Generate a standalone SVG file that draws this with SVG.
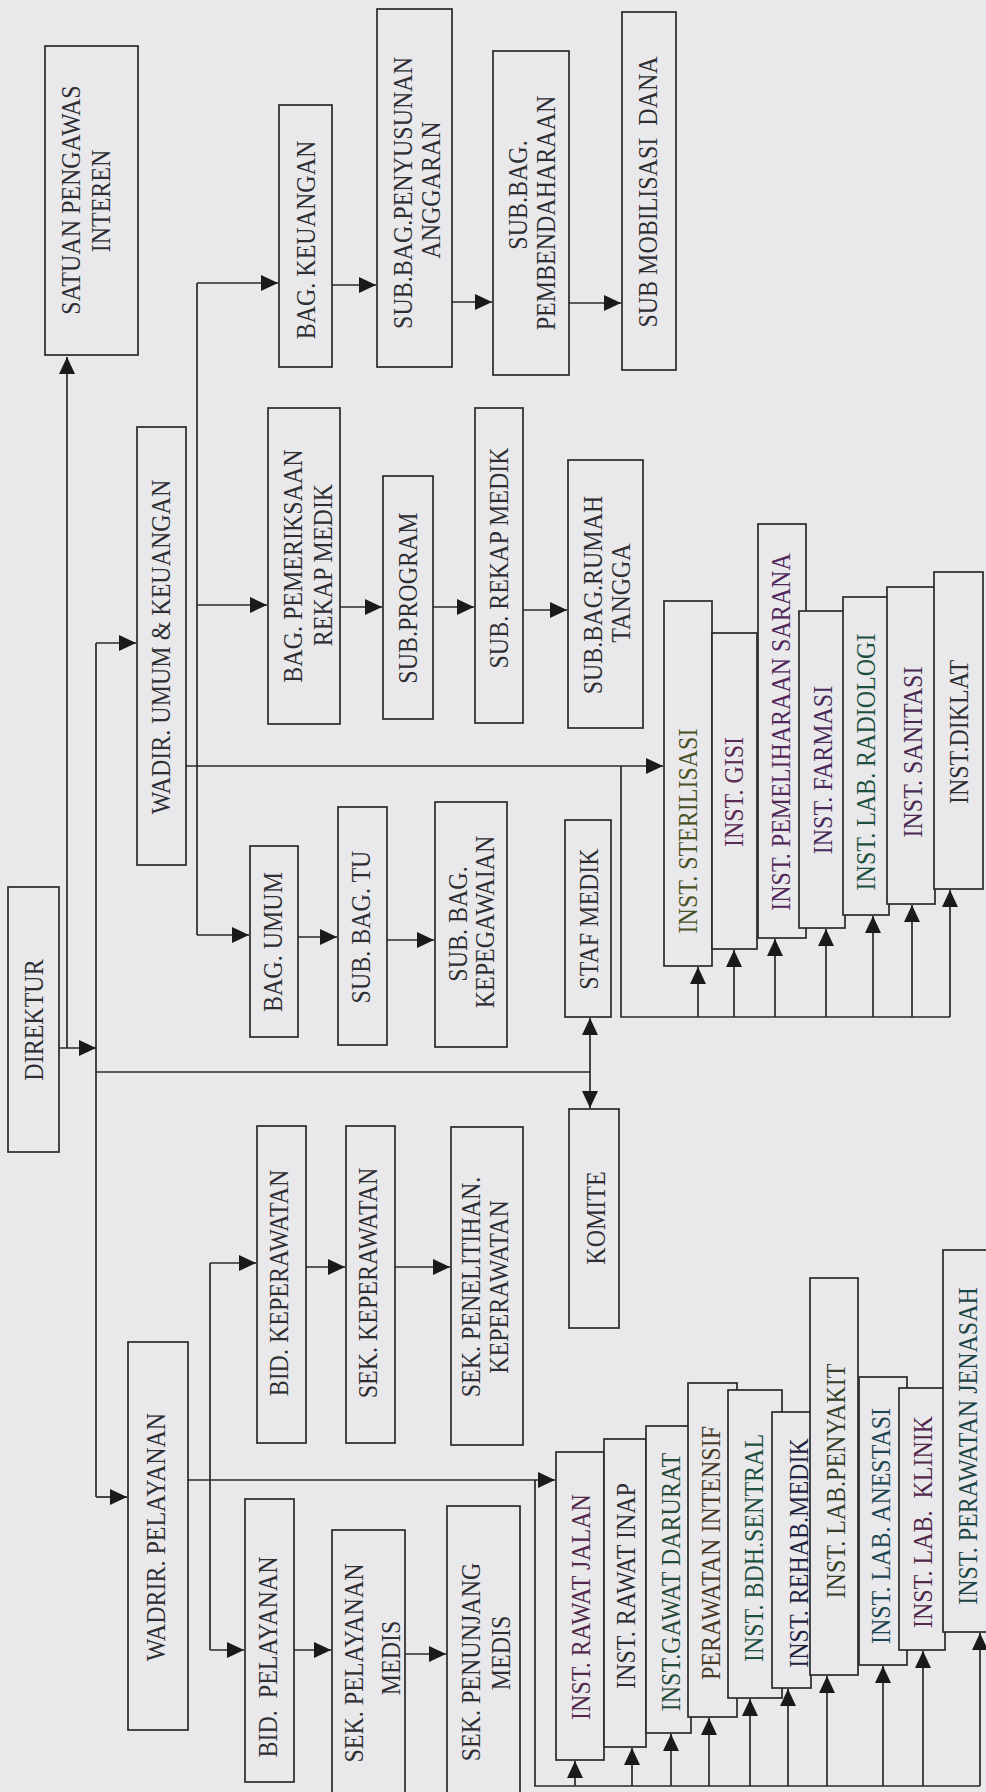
<svg xmlns="http://www.w3.org/2000/svg" width="986" height="1792" viewBox="0 0 986 1792">
<defs>
<style>
.bg{fill:#e9e9eb}
.n rect{fill:#e9e9eb;stroke:#2a2a2a;stroke-width:1.7}
.t{font-family:"Liberation Serif","Times New Roman",serif;font-size:24px;text-anchor:middle;fill:#2e2e33}
.c line,.c polyline{fill:none;stroke:#2a2a2a;stroke-width:1.7}
.a{marker-end:url(#ah)}
</style>
<marker id="ah" markerUnits="userSpaceOnUse" markerWidth="18" markerHeight="16" refX="17" refY="8" orient="auto">
<path d="M0,0 L17,8 L0,16 Z" fill="#1a1a1a"/>
</marker>
</defs>
<rect class="bg" x="0" y="0" width="986" height="1792"/>

<g id="connectors" class="c">
<!-- direktur to satuan and trunk -->
<polyline class="a" points="67,1048 67,357"/>
<line class="a" x1="59" y1="1048" x2="96" y2="1048"/>
<line x1="96" y1="643" x2="96" y2="1497"/>
<line class="a" x1="96" y1="643" x2="136" y2="643"/>
<line class="a" x1="96" y1="1497" x2="127" y2="1497"/>
<line x1="96" y1="1072" x2="590" y2="1072"/>
<line class="a" x1="590" y1="1072" x2="590" y2="1018"/>
<line class="a" x1="590" y1="1072" x2="590" y2="1108"/>
<!-- wadir umum branch -->
<line x1="197" y1="283" x2="197" y2="935"/>
<line class="a" x1="197" y1="283" x2="278" y2="283"/>
<line class="a" x1="197" y1="605" x2="267" y2="605"/>
<line class="a" x1="197" y1="935" x2="249" y2="935"/>
<line class="a" x1="332" y1="285" x2="376" y2="285"/>
<line class="a" x1="452" y1="302" x2="492" y2="302"/>
<line class="a" x1="569" y1="303" x2="621" y2="303"/>
<line class="a" x1="340" y1="607" x2="382" y2="607"/>
<line class="a" x1="433" y1="607" x2="474" y2="607"/>
<line class="a" x1="523" y1="610" x2="567" y2="610"/>
<line class="a" x1="298" y1="937" x2="337" y2="937"/>
<line class="a" x1="387" y1="940" x2="434" y2="940"/>
<!-- wadir umum to instalasi -->
<line class="a" x1="186" y1="766" x2="663" y2="766"/>
<polyline points="621,766 621,1017 950,1017"/>
<line class="a" x1="698" y1="1017" x2="698" y2="967"/>
<line class="a" x1="734" y1="1017" x2="734" y2="950"/>
<line class="a" x1="775" y1="1017" x2="775" y2="939"/>
<line class="a" x1="826" y1="1017" x2="826" y2="929"/>
<line class="a" x1="873" y1="1017" x2="873" y2="916"/>
<line class="a" x1="912" y1="1017" x2="912" y2="905"/>
<line class="a" x1="950" y1="1017" x2="950" y2="890"/>
<!-- wadir pelayanan branch -->
<line x1="210" y1="1263" x2="210" y2="1650"/>
<line class="a" x1="210" y1="1263" x2="256" y2="1263"/>
<line class="a" x1="210" y1="1650" x2="244" y2="1650"/>
<line class="a" x1="306" y1="1267" x2="345" y2="1267"/>
<line class="a" x1="395" y1="1267" x2="450" y2="1267"/>
<line class="a" x1="294" y1="1650" x2="331" y2="1650"/>
<line class="a" x1="405" y1="1654" x2="446" y2="1654"/>
<!-- wadir pelayanan to instalasi -->
<line class="a" x1="188" y1="1480" x2="555" y2="1480"/>
<polyline points="535,1480 535,1786 980,1786"/>
<line class="a" x1="575" y1="1786" x2="575" y2="1761"/>
<line class="a" x1="632" y1="1786" x2="632" y2="1748"/>
<line class="a" x1="671" y1="1786" x2="671" y2="1734"/>
<line class="a" x1="709" y1="1786" x2="709" y2="1718"/>
<line class="a" x1="750" y1="1786" x2="750" y2="1699"/>
<line class="a" x1="788" y1="1786" x2="788" y2="1689"/>
<line class="a" x1="827" y1="1786" x2="827" y2="1676"/>
<line class="a" x1="883" y1="1786" x2="883" y2="1666"/>
<line class="a" x1="923" y1="1786" x2="923" y2="1651"/>
<line class="a" x1="980" y1="1786" x2="980" y2="1633"/>
</g>

<g id="satuan" class="n"><rect x="45" y="46" width="93" height="309"/>
<text class="t" transform="translate(80,200) rotate(-90) scale(1,1.1)">SATUAN PENGAWAS</text>
<text class="t" transform="translate(110,201) rotate(-90) scale(1,1.1)">INTEREN</text></g>
<g id="bag-keuangan" class="n"><rect x="279" y="105" width="53" height="262"/>
<text class="t" transform="translate(315,240) rotate(-90) scale(1,1.1)">BAG. KEUANGAN</text></g>
<g id="sub-penyusunan" class="n"><rect x="377" y="9" width="75" height="358"/>
<text class="t" transform="translate(412,193) rotate(-90) scale(1,1.1)">SUB.BAG.PENYUSUNAN</text>
<text class="t" transform="translate(440,190) rotate(-90) scale(1,1.1)">ANGGARAN</text></g>
<g id="sub-pembendaharaan" class="n"><rect x="493" y="51" width="76" height="324"/>
<text class="t" transform="translate(527,195) rotate(-90) scale(1,1.1)">SUB.BAG.</text>
<text class="t" transform="translate(555,213) rotate(-90) scale(1,1.1)">PEMBENDAHARAAN</text></g>
<g id="sub-mobilisasi" class="n"><rect x="622" y="12" width="54" height="358"/>
<text class="t" xml:space="preserve" transform="translate(657,192) rotate(-90) scale(1,1.1)">SUB MOBILISASI  DANA</text></g>

<g id="wadir-umum" class="n"><rect x="137" y="427" width="49" height="438"/>
<text class="t" transform="translate(170,647) rotate(-90) scale(1,1.1)">WADIR. UMUM &amp; KEUANGAN</text></g>
<g id="bag-pemeriksaan" class="n"><rect x="268" y="408" width="72" height="316"/>
<text class="t" transform="translate(302,566) rotate(-90) scale(1,1.1)">BAG. PEMERIKSAAN</text>
<text class="t" transform="translate(332,565) rotate(-90) scale(1,1.1)">REKAP MEDIK</text></g>
<g id="sub-program" class="n"><rect x="383" y="476" width="50" height="243"/>
<text class="t" transform="translate(417,598) rotate(-90) scale(1,1.1)">SUB.PROGRAM</text></g>
<g id="sub-rekap" class="n"><rect x="475" y="408" width="48" height="315"/>
<text class="t" transform="translate(508,558) rotate(-90) scale(1,1.1)">SUB. REKAP MEDIK</text></g>
<g id="sub-rumah-tangga" class="n"><rect x="568" y="460" width="75" height="268"/>
<text class="t" transform="translate(602,595) rotate(-90) scale(1,1.1)">SUB.BAG.RUMAH</text>
<text class="t" transform="translate(630,593) rotate(-90) scale(1,1.1)">TANGGA</text></g>

<g id="inst-sterilisasi" class="n"><rect x="664" y="601" width="48" height="365"/>
<text class="t" style="fill:#4a5228" transform="translate(697,831) rotate(-90) scale(1,1.1)">INST. STERILISASI</text></g>
<g id="inst-gisi" class="n"><rect x="712" y="633" width="45" height="316"/>
<text class="t" style="fill:#5a2a52" transform="translate(743,792) rotate(-90) scale(1,1.1)">INST. GISI</text></g>
<g id="inst-pemeliharaan" class="n"><rect x="758" y="524" width="48" height="414"/>
<text class="t" style="fill:#52285a" transform="translate(790,732) rotate(-90) scale(1,1.1)">INST. PEMELIHARAAN SARANA</text></g>
<g id="inst-farmasi" class="n"><rect x="799" y="611" width="46" height="317"/>
<text class="t" style="fill:#4a2a5a" transform="translate(832,770) rotate(-90) scale(1,1.1)">INST. FARMASI</text></g>
<g id="inst-radiologi" class="n"><rect x="843" y="597" width="46" height="318"/>
<text class="t" style="fill:#1e5040" transform="translate(875,762) rotate(-90) scale(1,1.1)">INST. LAB. RADIOLOGI</text></g>
<g id="inst-sanitasi" class="n"><rect x="887" y="587" width="48" height="317"/>
<text class="t" style="fill:#4a2a50" transform="translate(922,752) rotate(-90) scale(1,1.1)">INST. SANITASI</text></g>
<g id="inst-diklat" class="n"><rect x="934" y="572" width="49" height="317"/>
<text class="t" transform="translate(968,732) rotate(-90) scale(1,1.1)">INST.DIKLAT</text></g>

<g id="direktur" class="n"><rect x="8" y="887" width="51" height="265"/>
<text class="t" transform="translate(43,1020) rotate(-90) scale(1,1.1)">DIREKTUR</text></g>
<g id="bag-umum" class="n"><rect x="250" y="846" width="48" height="191"/>
<text class="t" transform="translate(282,942) rotate(-90) scale(1,1.1)">BAG. UMUM</text></g>
<g id="sub-tu" class="n"><rect x="338" y="807" width="49" height="238"/>
<text class="t" transform="translate(370,927) rotate(-90) scale(1,1.1)">SUB. BAG. TU</text></g>
<g id="sub-kepegawaian" class="n"><rect x="435" y="802" width="72" height="245"/>
<text class="t" transform="translate(467,924) rotate(-90) scale(1,1.1)">SUB. BAG.</text>
<text class="t" transform="translate(494,922) rotate(-90) scale(1,1.1)">KEPEGAWAIAN</text></g>
<g id="staf-medik" class="n"><rect x="565" y="820" width="46" height="197"/>
<text class="t" transform="translate(598,919) rotate(-90) scale(1,1.1)">STAF MEDIK</text></g>
<g id="komite" class="n"><rect x="569" y="1109" width="50" height="219"/>
<text class="t" transform="translate(605,1218) rotate(-90) scale(1,1.1)">KOMITE</text></g>

<g id="bid-keperawatan" class="n"><rect x="257" y="1126" width="49" height="317"/>
<text class="t" transform="translate(288,1283) rotate(-90) scale(1,1.1)">BID. KEPERAWATAN</text></g>
<g id="sek-keperawatan" class="n"><rect x="346" y="1126" width="49" height="317"/>
<text class="t" transform="translate(377,1283) rotate(-90) scale(1,1.1)">SEK. KEPERAWATAN</text></g>
<g id="sek-penelitihan" class="n"><rect x="451" y="1127" width="72" height="318"/>
<text class="t" transform="translate(480,1287) rotate(-90) scale(1,1.1)">SEK. PENELITIHAN.</text>
<text class="t" transform="translate(508,1287) rotate(-90) scale(1,1.1)">KEPERAWATAN</text></g>

<g id="wadrir-pelayanan" class="n"><rect x="128" y="1342" width="60" height="388"/>
<text class="t" transform="translate(165,1537) rotate(-90) scale(1,1.1)">WADRIR. PELAYANAN</text></g>
<g id="bid-pelayanan" class="n"><rect x="245" y="1499" width="49" height="283"/>
<text class="t" xml:space="preserve" transform="translate(277,1657) rotate(-90) scale(1,1.1)">BID.  PELAYANAN</text></g>
<g id="sek-pelayanan-medis" class="n"><rect x="332" y="1530" width="73" height="280"/>
<text class="t" transform="translate(363,1663) rotate(-90) scale(1,1.1)">SEK. PELAYANAN</text>
<text class="t" transform="translate(400,1658) rotate(-90) scale(1,1.1)">MEDIS</text></g>
<g id="sek-penunjang-medis" class="n"><rect x="447" y="1506" width="73" height="304"/>
<text class="t" transform="translate(480,1662) rotate(-90) scale(1,1.1)">SEK. PENUNJANG</text>
<text class="t" transform="translate(510,1653) rotate(-90) scale(1,1.1)">MEDIS</text></g>

<g id="inst-rawat-jalan" class="n"><rect x="556" y="1452" width="48" height="308"/>
<text class="t" style="fill:#52284a" transform="translate(590,1607) rotate(-90) scale(1,1.1)">INST. RAWAT JALAN</text></g>
<g id="inst-rawat-inap" class="n"><rect x="604" y="1439" width="42" height="308"/>
<text class="t" transform="translate(635,1586) rotate(-90) scale(1,1.1)">INST. RAWAT INAP</text></g>
<g id="inst-gawat-darurat" class="n"><rect x="646" y="1426" width="45" height="307"/>
<text class="t" style="fill:#284a38" transform="translate(680,1582) rotate(-90) scale(1,1.1)">INST.GAWAT DARURAT</text></g>
<g id="inst-perawatan-intensif" class="n"><rect x="688" y="1383" width="49" height="334"/>
<text class="t" style="fill:#483a28" transform="translate(720,1553) rotate(-90) scale(1,1.1)">PERAWATAN INTENSIF</text></g>
<g id="inst-bdh-sentral" class="n"><rect x="728" y="1390" width="54" height="308"/>
<text class="t" style="fill:#1e5040" transform="translate(763,1548) rotate(-90) scale(1,1.1)">INST. BDH.SENTRAL</text></g>
<g id="inst-rehab-medik" class="n"><rect x="772" y="1412" width="39" height="276"/>
<text class="t" style="fill:#22223e" transform="translate(808,1553) rotate(-90) scale(1,1.1)">INST. REHAB.MEDIK</text></g>
<g id="inst-lab-penyakit" class="n"><rect x="810" y="1278" width="48" height="397"/>
<text class="t" style="fill:#363f28" transform="translate(845,1481) rotate(-90) scale(1,1.1)">INST. LAB.PENYAKIT</text></g>
<g id="inst-lab-anestasi" class="n"><rect x="859" y="1377" width="48" height="288"/>
<text class="t" style="fill:#1e4552" transform="translate(890,1526) rotate(-90) scale(1,1.1)">INST. LAB. ANESTASI</text></g>
<g id="inst-lab-klinik" class="n"><rect x="899" y="1388" width="46" height="262"/>
<text class="t" style="fill:#52284a" xml:space="preserve" transform="translate(932,1522) rotate(-90) scale(1,1.1)">INST. LAB.  KLINIK</text></g>
<g id="inst-perawatan-jenasah" class="n"><rect x="943" y="1250" width="60" height="382"/>
<text class="t" style="fill:#1e4545" transform="translate(977,1446) rotate(-90) scale(1,1.1)">INST. PERAWATAN JENASAH</text></g>
</svg>
